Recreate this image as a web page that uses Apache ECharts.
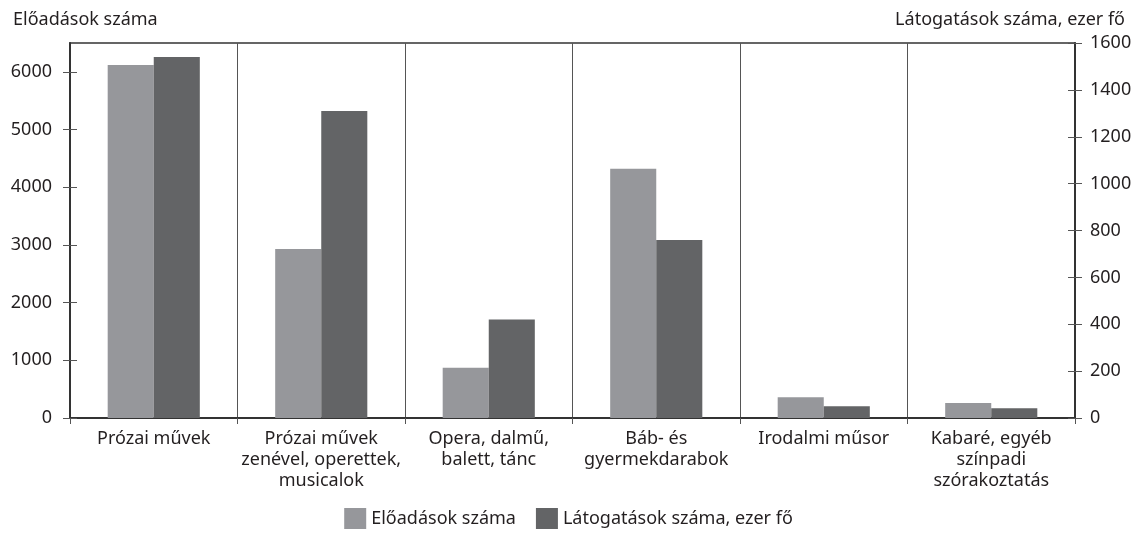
<!DOCTYPE html>
<html>
<head>
<meta charset="utf-8">
<script src="https://cdn.jsdelivr.net/npm/echarts@6/dist/echarts.min.js"></script>
<style>
  html, body { margin: 0; padding: 0; background: #fff; }
  #chart { width: 1137px; height: 536px; }
</style>
</head>
<body>
<div id="chart"></div>
<script>
// kategóriák
var categories = [
    'Prózai művek',
    'Prózai művek\nzenével, operettek,\nmusicalok',
    'Opera, dalmű,\nbalett, tánc',
    'Báb- és\ngyermekdarabok',
    'Irodalmi műsor',
    'Kabaré, egyéb\nszínpadi\nszórakoztatás'
];
var eloadasok = [6120, 2930, 870, 4320, 360, 260];
var latogatasok = [1540, 1310, 420, 760, 50, 42];

// tengely-feliratok
var leftTicks = [0, 1000, 2000, 3000, 4000, 5000, 6000];
var rightTicks = [0, 200, 400, 600, 800, 1000, 1200, 1400, 1600];

var leftName = 'Előadások száma';
var rightName = 'Látogatások száma, ezer fő';

var font = 'Noto Sans';
var fs = 18;
var textColor = '#231f20';
var axisColor = '#333';

var option = {
    animation: false,
    title: [
        { text: leftName, left: 8, top: 6,
          textStyle: { fontFamily: font, fontSize: fs, fontWeight: 'normal', color: textColor } },
        { text: rightName, right: 7, top: 6,
          textStyle: { fontFamily: font, fontSize: fs, fontWeight: 'normal', color: textColor } }
    ],
    grid: {
        left: 70, right: 62, top: 43, bottom: 118,
        show: true, borderColor: axisColor, borderWidth: 1.5, backgroundColor: 'transparent'
    },
    legend: {
        bottom: 2,
        left: 'center',
        itemWidth: 22,
        itemHeight: 21,
        itemGap: 20,
        icon: 'rect',
        textStyle: { fontFamily: font, fontSize: fs, color: textColor },
        data: [leftName, rightName]
    },
    xAxis: [{
        type: 'category',
        data: categories,
        axisLine: { lineStyle: { color: axisColor, width: 2 } },
        axisTick: { show: true, length: 6, lineStyle: { color: '#555' } },
        splitLine: { show: true, interval: 0, lineStyle: { color: '#555', width: 1 } },
        axisLabel: {
            interval: 0, margin: 10, lineHeight: 21,
            fontFamily: font, fontSize: fs, color: textColor
        }
    }],
    yAxis: [{
        type: 'value', position: 'left',
        min: 0, max: 6500, interval: 1000,
        axisLine: { show: true, lineStyle: { color: axisColor, width: 2 } },
        axisTick: { show: true, length: 7, customValues: leftTicks, lineStyle: { color: '#555' } },
        splitLine: { show: false },
        axisLabel: {
            margin: 18, fontFamily: font, fontSize: fs, color: textColor,
            customValues: leftTicks,
            formatter: function (v) { return String(v); }
        }
    }, {
        type: 'value', position: 'right',
        min: 0, max: 1600, interval: 200,
        axisLine: { show: true, lineStyle: { color: axisColor, width: 2 } },
        axisTick: { show: true, length: 7, customValues: rightTicks, lineStyle: { color: '#555' } },
        splitLine: { show: false },
        axisLabel: {
            margin: 15, fontFamily: font, fontSize: fs, color: textColor,
            customValues: rightTicks,
            formatter: function (v) { return String(v); }
        }
    }, {
        // belső tick-ek, hogy a jelölők átmenjenek a tengelyen
        type: 'value', position: 'left',
        min: 0, max: 6500, interval: 1000,
        axisLine: { show: false },
        axisTick: { show: true, inside: true, length: 7, customValues: leftTicks, lineStyle: { color: '#555' } },
        splitLine: { show: false },
        axisLabel: { show: false }
    }, {
        type: 'value', position: 'right',
        min: 0, max: 1600, interval: 200,
        axisLine: { show: false },
        axisTick: { show: true, inside: true, length: 7, customValues: rightTicks, lineStyle: { color: '#555' } },
        splitLine: { show: false },
        axisLabel: { show: false }
    }],
    series: [{
        name: leftName,
        type: 'bar',
        yAxisIndex: 0,
        barGap: '0%',
        barCategoryGap: '45%',
        itemStyle: { color: '#96979b' },
        data: eloadasok
    }, {
        name: rightName,
        type: 'bar',
        yAxisIndex: 1,
        itemStyle: { color: '#636466' },
        data: latogatasok
    }]
};

echarts.init(document.getElementById('chart')).setOption(option);
</script>
</body>
</html>
